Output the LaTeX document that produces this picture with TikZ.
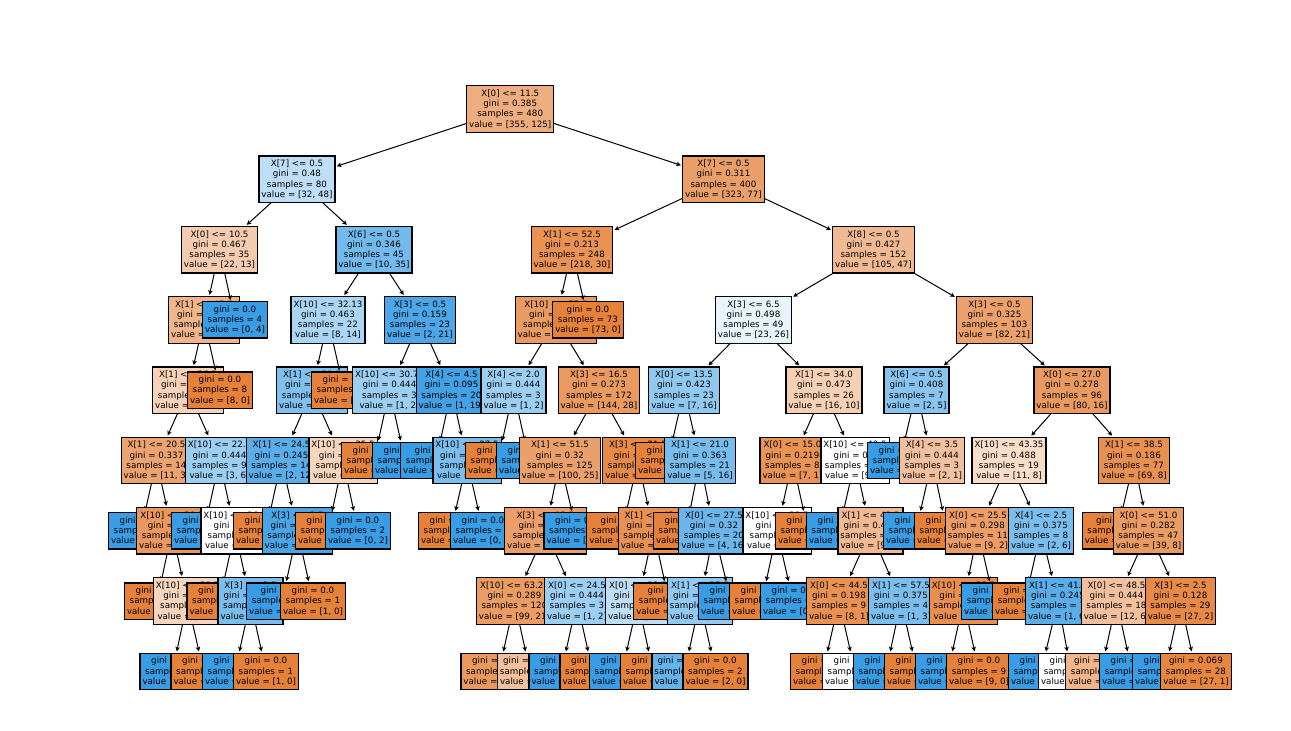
\documentclass[tikz,border=0pt]{standalone}
\usepackage{fontspec}
\setmainfont{DejaVu Sans}
\usetikzlibrary{arrows.meta}

\definecolor{clsA}{RGB}{229,129,57}
\definecolor{clsB}{RGB}{57,157,229}

% one layer per depth: deeper levels lie underneath shallower ones
\pgfdeclarelayer{bg}
\pgfdeclarelayer{d8}\pgfdeclarelayer{d7}\pgfdeclarelayer{d6}
\pgfdeclarelayer{d5}\pgfdeclarelayer{d4}\pgfdeclarelayer{d3}
\pgfdeclarelayer{d2}\pgfdeclarelayer{d1}\pgfdeclarelayer{d0}
\pgfsetlayers{bg,d8,d7,d6,d5,d4,d3,d2,d1,d0,main}

\tikzset{
  tbox/.style={draw=black, line width=1.3pt, align=center, text=black,
    font=\fontsize{8.7}{10.2}\selectfont, inner xsep=2.5pt, inner ysep=4.1pt},
  treearrow/.style={line width=1pt, -{Stealth[length=4.5pt,width=4.5pt,inset=1pt]},
    shorten >=1.2pt}
}

% #1 name, #2 parent, #3 depth, #4 x, #5 class-0 count, #6 class-1 count, #7 text
\newcommand\placebox[7]{%
  \begin{pgfonlayer}{d#3}%
    \ifnum#5<#6\relax
      \pgfmathsetmacro\fillpct{100*(1-#5/#6)}\def\fillcls{clsB}%
    \else
      \pgfmathsetmacro\fillpct{100*(1-#6/#5)}\def\fillcls{clsA}%
    \fi
    \node[tbox, fill=\fillcls!\fillpct!white] (#1) at (#4, {-(109+70.3*#3)}) {#7};
    \if\relax\detokenize{#2}\relax\else
      \draw[treearrow] (#2.center) -- (#1);
    \fi
  \end{pgfonlayer}}
% split node: ... #7 rule, #8 gini
\newcommand\sn[8]{\placebox{#1}{#2}{#3}{#4}{#5}{#6}{#7\\gini = #8\\samples = \the\numexpr#5+#6\relax\\value = [#5, #6]}}
% leaf: ... #7 gini
\newcommand\lf[7]{\placebox{#1}{#2}{#3}{#4}{#5}{#6}{gini = #7\\samples = \the\numexpr#5+#6\relax\\value = [#5, #6]}}

\begin{document}
\begin{tikzpicture}[x=1pt,y=1pt]
\begin{pgfonlayer}{bg}
\fill[white] (0,0) rectangle (1291,-731);
\end{pgfonlayer}
\path[use as bounding box] (0,0) rectangle (1291,-731);

\sn{r}{}{0}{510.25}{355}{125}{X[0] <= 11.5}{0.385}
% ---- left branch
\sn{a}{r}{1}{297}{32}{48}{X[7] <= 0.5}{0.48}
\sn{a1}{a}{2}{219.5}{22}{13}{X[0] <= 10.5}{0.467}
\sn{a1a}{a1}{3}{204}{22}{9}{X[1] <= 47.5}{0.412}
\sn{a1a1}{a1a}{4}{188}{14}{9}{X[1] <= 36.5}{0.476}
\sn{a1a1l}{a1a1}{5}{156.5}{11}{3}{X[1] <= 20.5}{0.337}
\lf{n6a}{a1a1l}{6}{141}{0}{1}{0.0}
\sn{n6b}{a1a1l}{6}{172}{11}{2}{X[10] <= 30.5}{0.26}
\lf{n7a}{n6b}{7}{157}{8}{0}{0.0}
\sn{n7b}{n6b}{7}{187.5}{3}{2}{X[10] <= 38.5}{0.48}
\lf{n8a}{n7b}{8}{172.5}{0}{2}{0.0}
\lf{n8b}{n7b}{8}{203.5}{3}{0}{0.0}
\sn{a1a1r}{a1a1}{5}{219.5}{3}{6}{X[10] <= 22.5}{0.444}
\lf{n6c}{a1a1r}{6}{204}{0}{3}{0.0}
\sn{n6d}{a1a1r}{6}{235}{3}{3}{X[10] <= 26.5}{0.5}
\lf{n7c}{n6d}{7}{219.5}{2}{0}{0.0}
\sn{n7d}{n6d}{7}{250.5}{1}{3}{X[3] <= 3.5}{0.375}
\lf{n8c}{n7d}{8}{235}{0}{3}{0.0}
\lf{n8d}{n7d}{8}{266}{1}{0}{0.0}
\lf{a1a2}{a1a}{4}{220}{8}{0}{0.0}
\lf{a1b}{a1}{3}{235}{0}{4}{0.0}
\sn{a2}{a}{2}{374}{10}{35}{X[6] <= 0.5}{0.346}
\sn{a2a}{a2}{3}{328}{8}{14}{X[10] <= 32.13}{0.463}
\sn{a2a1}{a2a}{4}{312}{5}{14}{X[1] <= 30.5}{0.388}
\sn{n5a}{a2a1}{5}{281.5}{2}{12}{X[1] <= 24.5}{0.245}
\lf{n6e}{n5a}{6}{266}{1}{0}{0.0}
\sn{n6f}{n5a}{6}{297.5}{1}{12}{X[3] <= 2.5}{0.142}
\lf{n7e}{n6f}{7}{282}{0}{12}{0.0}
\lf{n7f}{n6f}{7}{313}{1}{0}{0.0}
\sn{n5b}{a2a1}{5}{343}{3}{2}{X[10] <= 35.5}{0.48}
\lf{n6g}{n5b}{6}{328}{3}{0}{0.0}
\lf{n6h}{n5b}{6}{358}{0}{2}{0.0}
\lf{a2a2}{a2a}{4}{344}{3}{0}{0.0}
\sn{a2b}{a2}{3}{420}{2}{21}{X[3] <= 0.5}{0.159}
\sn{a2b1}{a2b}{4}{389.5}{1}{2}{X[10] <= 30.75}{0.444}
\lf{n5c}{a2b1}{5}{374}{1}{0}{0.0}
\lf{n5d}{a2b1}{5}{405}{0}{2}{0.0}
\sn{a2b2}{a2b}{4}{451.5}{1}{19}{X[4] <= 4.5}{0.095}
\lf{n5e}{a2b2}{5}{436}{0}{16}{0.0}
\sn{n5f}{a2b2}{5}{467}{1}{3}{X[10] <= 27.5}{0.375}
\lf{n6i}{n5f}{6}{451}{1}{0}{0.0}
\lf{n6j}{n5f}{6}{483}{0}{3}{0.0}
% ---- right branch
\sn{b}{r}{1}{723.5}{323}{77}{X[7] <= 0.5}{0.311}
\sn{b1}{b}{2}{572}{218}{30}{X[1] <= 52.5}{0.213}
\sn{b1a}{b1}{3}{556}{145}{30}{X[10] <= 75.5}{0.284}
\sn{b1a1}{b1a}{4}{513.5}{1}{2}{X[4] <= 2.0}{0.444}
\lf{n5g}{b1a1}{5}{498}{1}{0}{0.0}
\lf{n5h}{b1a1}{5}{529}{0}{2}{0.0}
\sn{b1a2}{b1a}{4}{599}{144}{28}{X[3] <= 16.5}{0.273}
\sn{n5i}{b1a2}{5}{560}{100}{25}{X[1] <= 51.5}{0.32}
\sn{n6k}{n5i}{6}{545.5}{100}{23}{X[3] <= 12.5}{0.304}
\sn{n7g}{n6k}{7}{514.5}{99}{21}{X[10] <= 63.25}{0.289}
\lf{n8e}{n7g}{8}{499}{91}{17}{0.265}
\lf{n8f}{n7g}{8}{530}{8}{4}{0.444}
\sn{n7h}{n6k}{7}{577}{1}{2}{X[0] <= 24.5}{0.444}
\lf{n8g}{n7h}{8}{561.5}{0}{2}{0.0}
\lf{n8h}{n7h}{8}{592.5}{1}{0}{0.0}
\lf{n6l}{n5i}{6}{576.5}{0}{2}{0.0}
\sn{n5j}{b1a2}{5}{638}{44}{3}{X[3] <= 21.5}{0.12}
\lf{n6m}{n5j}{6}{622}{20}{0}{0.0}
\sn{n6n}{n5j}{6}{653.5}{24}{3}{X[1] <= 43.5}{0.198}
\sn{n7i}{n6n}{7}{638}{2}{3}{X[0] <= 23.5}{0.48}
\lf{n8i}{n7i}{8}{622}{0}{3}{0.0}
\lf{n8j}{n7i}{8}{653}{2}{0}{0.0}
\lf{n7j}{n6n}{7}{669}{22}{0}{0.0}
\lf{b1b}{b1}{3}{588}{73}{0}{0.0}
\sn{b2}{b}{2}{873.5}{105}{47}{X[8] <= 0.5}{0.427}
\sn{b2a}{b2}{3}{753.5}{23}{26}{X[3] <= 6.5}{0.498}
\sn{b2a1}{b2a}{4}{684}{7}{16}{X[0] <= 13.5}{0.423}
\lf{n5k}{b2a1}{5}{668}{2}{0}{0.0}
\sn{n5l}{b2a1}{5}{700}{5}{16}{X[1] <= 21.0}{0.363}
\lf{n6o}{n5l}{6}{686}{1}{0}{0.0}
\sn{n6p}{n5l}{6}{714}{4}{16}{X[0] <= 27.5}{0.32}
\sn{n7k}{n6p}{7}{700}{4}{9}{X[1] <= 27.5}{0.426}
\lf{n8k}{n7k}{8}{684.5}{2}{9}{0.298}
\lf{n8l}{n7k}{8}{715.5}{2}{0}{0.0}
\lf{n7l}{n6p}{7}{731}{0}{7}{0.0}
\sn{b2a2}{b2a}{4}{824}{16}{10}{X[1] <= 34.0}{0.473}
\sn{n5m}{b2a2}{5}{792.5}{7}{1}{X[0] <= 15.0}{0.219}
\sn{n6q}{n5m}{6}{777}{1}{1}{X[10] <= 28.5}{0.5}
\lf{n7m}{n6q}{7}{762}{1}{0}{0.0}
\lf{n7n}{n6q}{7}{793}{0}{1}{0.0}
\lf{n6r}{n5m}{6}{808}{6}{0}{0.0}
\sn{n5n}{b2a2}{5}{855}{9}{9}{X[10] <= 40.5}{0.5}
\lf{n6s}{n5n}{6}{839}{0}{5}{0.0}
\sn{n6t}{n5n}{6}{870.5}{9}{4}{X[1] <= 45.5}{0.426}
\sn{n7o}{n6t}{7}{839}{8}{1}{X[0] <= 44.5}{0.198}
\lf{n8m}{n7o}{8}{823}{7}{0}{0.0}
\lf{n8n}{n7o}{8}{855}{1}{1}{0.5}
\sn{n7p}{n6t}{7}{901}{1}{3}{X[1] <= 57.5}{0.375}
\lf{n8o}{n7p}{8}{886}{0}{3}{0.0}
\lf{n8p}{n7p}{8}{917}{1}{0}{0.0}
\sn{b2b}{b2}{3}{994.5}{82}{21}{X[3] <= 0.5}{0.325}
\sn{b2b1}{b2b}{4}{916.5}{2}{5}{X[6] <= 0.5}{0.408}
\lf{n5o}{b2b1}{5}{900}{0}{4}{0.0}
\sn{n5p}{b2b1}{5}{932}{2}{1}{X[4] <= 3.5}{0.444}
\lf{n6u}{n5p}{6}{916}{0}{1}{0.0}
\lf{n6v}{n5p}{6}{947}{2}{0}{0.0}
\sn{b2b2}{b2b}{4}{1072}{80}{16}{X[0] <= 27.0}{0.278}
\sn{n5q}{b2b2}{5}{1009}{11}{8}{X[10] <= 43.35}{0.488}
\sn{n6w}{n5q}{6}{978}{9}{2}{X[0] <= 25.5}{0.298}
\sn{n7q}{n6w}{7}{963.5}{9}{1}{X[10] <= 38.5}{0.18}
\lf{n8q}{n7q}{8}{948}{0}{1}{0.0}
\lf{n8r}{n7q}{8}{979}{9}{0}{0.0}
\lf{n7r}{n6w}{7}{994}{0}{1}{0.0}
\sn{n6x}{n5q}{6}{1041}{2}{6}{X[4] <= 2.5}{0.375}
\lf{n7s}{n6x}{7}{1025}{1}{0}{0.0}
\sn{n7t}{n6x}{7}{1058}{1}{6}{X[1] <= 41.5}{0.245}
\lf{n8s}{n7t}{8}{1041}{0}{5}{0.0}
\lf{n8t}{n7t}{8}{1071}{1}{1}{0.5}
\sn{n5r}{b2b2}{5}{1134}{69}{8}{X[1] <= 38.5}{0.186}
\lf{n6y}{n5r}{6}{1117.5}{30}{0}{0.0}
\sn{n6z}{n5r}{6}{1148.5}{39}{8}{X[0] <= 51.0}{0.282}
\sn{n7u}{n6z}{7}{1116.5}{12}{6}{X[0] <= 48.5}{0.444}
\lf{n8u}{n7u}{8}{1101}{12}{5}{0.415}
\lf{n8v}{n7u}{8}{1132}{0}{1}{0.0}
\sn{n7v}{n6z}{7}{1180.5}{27}{2}{X[3] <= 2.5}{0.128}
\lf{n8w}{n7v}{8}{1165}{0}{1}{0.0}
\lf{n8x}{n7v}{8}{1196}{27}{1}{0.069}
\end{tikzpicture}
\end{document}
